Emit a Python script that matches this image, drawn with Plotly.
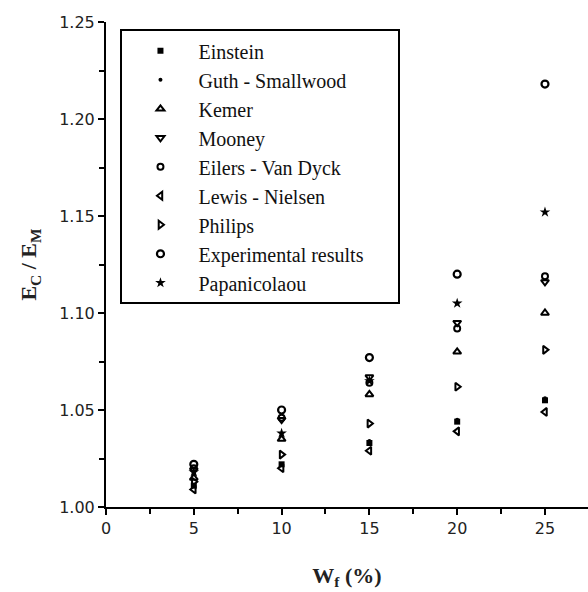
import plotly.graph_objects as go

# Filler weight fraction (%)
wf = [5, 10, 15, 20, 25]

# Relative modulus Ec/Em for each model and the experiment
einstein = [1.011, 1.022, 1.033, 1.044, 1.055]
guth_smallwood = [1.011, 1.022, 1.034, 1.045, 1.056]
kerner = [1.015, 1.035, 1.058, 1.080, 1.100]
mooney = [1.019, 1.045, 1.067, 1.095, 1.116]
eilers_van_dyck = [1.020, 1.046, 1.064, 1.092, 1.119]
lewis_nielsen = [1.009, 1.020, 1.029, 1.039, 1.049]
philips = [1.013, 1.027, 1.043, 1.062, 1.081]
experimental = [1.022, 1.050, 1.077, 1.120, 1.218]
papanicolaou = [1.018, 1.038, 1.065, 1.105, 1.152]

series = [
    ("Einstein", einstein, "square", 6, 0),
    ("Guth - Smallwood", guth_smallwood, "circle", 4, 0),
    ("Kemer", kerner, "triangle-up-open", 7, 2),
    ("Mooney", mooney, "triangle-down-open", 7, 2),
    ("Eilers - Van Dyck", eilers_van_dyck, "circle-open", 6, 2),
    ("Lewis - Nielsen", lewis_nielsen, "triangle-left-open", 7, 2),
    ("Philips", philips, "triangle-right-open", 7, 2),
    # trailing no-break spaces widen the legend box
    ("Experimental results\u00a0\u00a0\u00a0\u00a0\u00a0\u00a0", experimental, "circle-open", 7, 2.2),
    ("Papanicolaou", papanicolaou, "star", 8, 0),
]

fig = go.Figure()
for name, vals, sym, size, lw in series:
    fig.add_trace(go.Scatter(
        x=wf, y=vals, mode="markers", name=name,
        marker=dict(symbol=sym, size=size, color="black",
                    line=dict(color="black", width=lw)),
    ))

axis_common = dict(
    showline=True, linecolor="black", linewidth=2,
    ticks="outside", ticklen=6, tickwidth=2, tickcolor="black",
    showgrid=False, zeroline=False, mirror=False,
    tickfont=dict(family="DejaVu Sans", size=16, color="#222"),
)

fig.update_xaxes(
    range=[0, 27.45], tick0=0, dtick=5,
    minor=dict(ticks="outside", ticklen=5, tickwidth=2, tickcolor="black", dtick=2.5),
    title=dict(text="<b>W<sub>f</sub> (%)</b>",
               font=dict(family="Liberation Serif", size=22, color="#222"),
               standoff=30),
    **axis_common,
)
fig.update_yaxes(
    range=[1.0, 1.25], tick0=1.0, dtick=0.05, tickformat=".2f",
    minor=dict(ticks="outside", ticklen=5, tickwidth=2, tickcolor="black", dtick=0.025),
    title=dict(text="<b>E<sub>C</sub> / E<sub>M</sub></b>",
               font=dict(family="Liberation Serif", size=22, color="#222"),
               standoff=16),
    **axis_common,
)

fig.update_layout(
    width=588, height=592,
    margin=dict(l=106, r=0, t=22, b=85),
    paper_bgcolor="white", plot_bgcolor="white",
    showlegend=True,
    legend=dict(
        x=0.03, y=0.985, xanchor="left", yanchor="top",
        bordercolor="black", borderwidth=2, bgcolor="white",
        font=dict(family="Liberation Serif", size=20, color="#111"),
        itemwidth=66, tracegroupgap=0,
    ),
)

fig.write_html("out.html")
